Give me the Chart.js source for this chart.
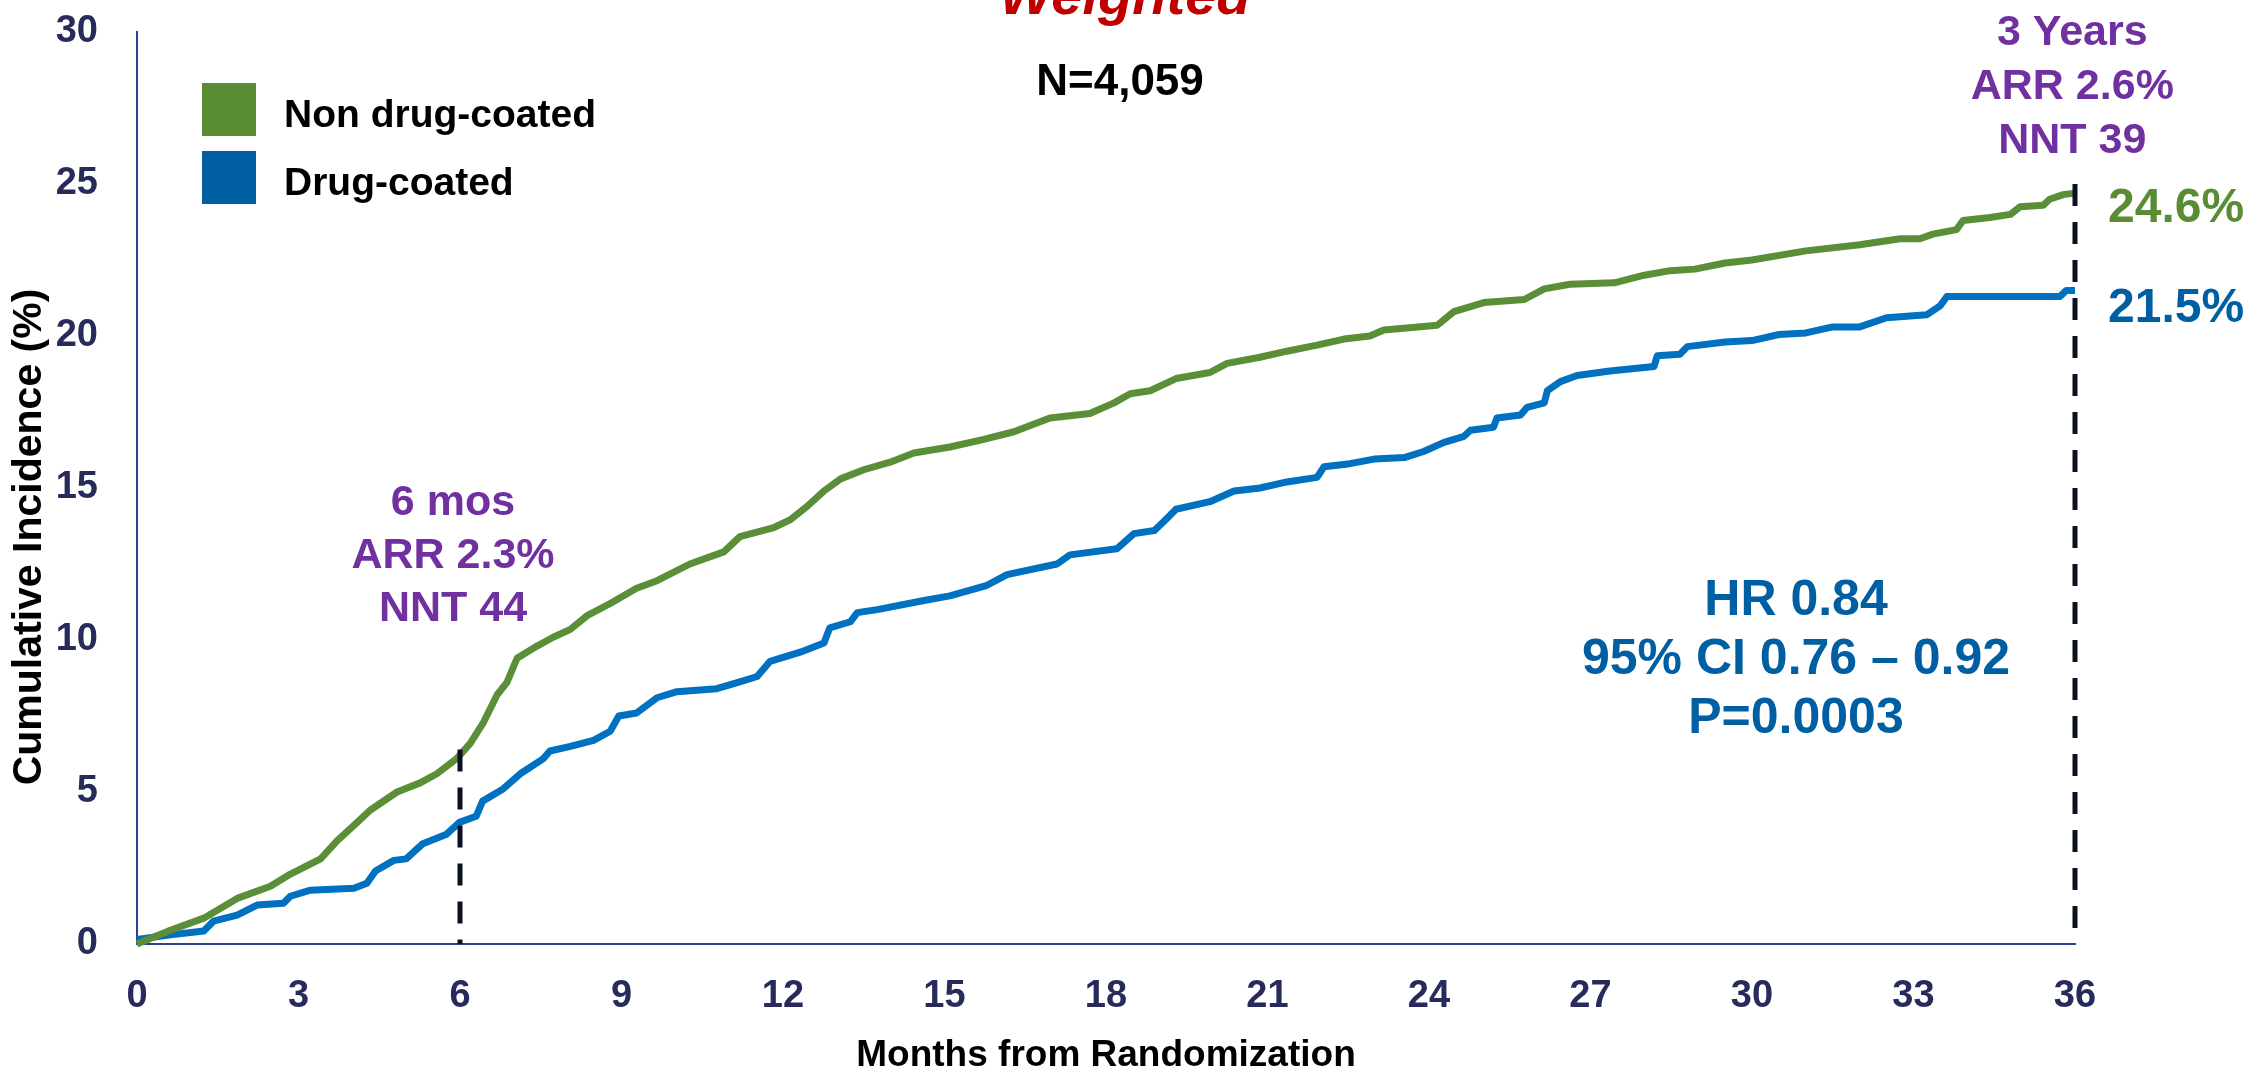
<!DOCTYPE html>
<html>
<head>
<meta charset="utf-8">
<title>Cumulative incidence</title>
<script src="https://cdn.jsdelivr.net/npm/chart.js@4.4.1/dist/chart.umd.min.js"></script>
<style>
  html, body { margin: 0; padding: 0; background: #fff; }
  #km { display: block; }
</style>
</head>
<body>
<canvas id="km" width="2260" height="1074"></canvas>
<script>
// months from randomization and cumulative incidence (%)
const nonCoatedMonths = [0, 0.62, 1.24, 1.86, 2.48, 2.85, 3.41, 3.72, 4.03, 4.33, 4.83, 5.26, 5.57, 5.94, 6.19, 6.44, 6.69, 6.87, 7.06, 7.43, 7.74, 8.05, 8.36, 8.79, 9.28, 9.66, 10.27, 10.9, 11.2, 11.83, 12.13, 12.45, 12.76, 13.07, 13.5, 13.99, 14.43, 15.1, 15.73, 16.29, 16.96, 17.7, 18.15, 18.45, 18.82, 19.3, 19.93, 20.25, 20.86, 21.36, 21.92, 22.42, 22.9, 23.16, 24.15, 24.46, 25.02, 25.77, 26.14, 26.62, 27.44, 28.0, 28.48, 28.94, 29.5, 30.0, 31.0, 32.0, 32.75, 33.12, 33.36, 33.8, 33.92, 34.42, 34.8, 34.98, 35.41, 35.53, 35.78, 36.0];
const nonCoatedPct = [0, 0.45, 0.85, 1.5, 1.9, 2.3, 2.8, 3.4, 3.9, 4.4, 5.0, 5.3, 5.6, 6.1, 6.6, 7.3, 8.2, 8.6, 9.4, 9.8, 10.1, 10.35, 10.8, 11.2, 11.7, 11.95, 12.5, 12.9, 13.4, 13.7, 13.95, 14.4, 14.9, 15.3, 15.6, 15.85, 16.15, 16.35, 16.6, 16.85, 17.3, 17.45, 17.8, 18.1, 18.2, 18.6, 18.8, 19.1, 19.3, 19.5, 19.7, 19.9, 20.0, 20.2, 20.35, 20.8, 21.1, 21.2, 21.55, 21.7, 21.75, 22.0, 22.15, 22.2, 22.4, 22.5, 22.8, 23.0, 23.2, 23.2, 23.35, 23.5, 23.8, 23.9, 24.0, 24.25, 24.3, 24.5, 24.65, 24.7];

const coatedMonths = [0, 0.62, 1.24, 1.42, 1.86, 2.23, 2.72, 2.85, 3.22, 4.03, 4.27, 4.43, 4.77, 5.0, 5.31, 5.74, 5.99, 6.3, 6.42, 6.8, 7.12, 7.55, 7.67, 8.05, 8.48, 8.79, 8.95, 9.28, 9.66, 10.03, 10.77, 11.15, 11.52, 11.76, 12.32, 12.76, 12.87, 13.25, 13.38, 13.75, 14.62, 15.1, 15.79, 16.16, 17.09, 17.33, 18.2, 18.52, 18.9, 19.13, 19.3, 19.93, 20.38, 20.86, 21.36, 21.92, 22.05, 22.53, 22.98, 23.54, 23.9, 24.28, 24.65, 24.77, 25.2, 25.26, 25.7, 25.82, 26.14, 26.2, 26.44, 26.75, 27.36, 28.18, 28.24, 28.66, 28.8, 29.5, 30.0, 30.5, 31.0, 31.5, 32.0, 32.5, 33.25, 33.5, 33.62, 35.72, 35.84, 36.0];
const coatedPct = [0.15, 0.3, 0.43, 0.75, 0.95, 1.28, 1.34, 1.57, 1.77, 1.83, 2.0, 2.4, 2.75, 2.8, 3.3, 3.6, 4.0, 4.2, 4.7, 5.1, 5.6, 6.1, 6.35, 6.5, 6.7, 7.0, 7.5, 7.6, 8.1, 8.3, 8.4, 8.6, 8.8, 9.3, 9.6, 9.9, 10.4, 10.6, 10.9, 11.0, 11.3, 11.45, 11.8, 12.15, 12.5, 12.8, 13.0, 13.5, 13.6, 14.0, 14.3, 14.55, 14.9, 15.0, 15.2, 15.35, 15.7, 15.8, 15.95, 16.0, 16.2, 16.5, 16.7, 16.9, 17.0, 17.3, 17.4, 17.65, 17.8, 18.2, 18.5, 18.7, 18.85, 19.0, 19.35, 19.4, 19.65, 19.8, 19.85, 20.05, 20.1, 20.3, 20.3, 20.6, 20.7, 21.0, 21.3, 21.3, 21.5, 21.5];

// dashed landmark lines (6 months, 3 years)
const landmarkMonths = [6, 36];
const landmarkTops = [6.4, 25];

const seriesNames = ['Non drug-coated', 'Drug-coated'];
const seriesColors = ['#5b8f37', '#0071c1'];
const legendColors = ['#5a8c34', '#005ea2'];
const endLabels = ['24.6%', '21.5%'];
const sixMonthText = ['6 mos', 'ARR 2.3%', 'NNT 44'];
const threeYearText = ['3 Years', 'ARR 2.6%', 'NNT 39'];
const hrText = ['HR 0.84', '95% CI 0.76 \u2013 0.92', 'P=0.0003'];

const FONT = '"Liberation Sans", Arial, Helvetica, sans-serif';
Chart.defaults.font.family = FONT;

function toPoints(xs, ys) {
    return xs.map((m, i) => ({ x: m, y: ys[i] }));
}

function landmarkData(i) {
    return [{ x: landmarkMonths[i], y: landmarkTops[i] }, { x: landmarkMonths[i], y: 0 }];
}

// text that Chart.js has no slot for: title, legend, annotations
const annotate = {
    id: 'annotate',
    afterDraw(chart) {
        const { ctx, scales: { x, y } } = chart;
        ctx.save();
        ctx.textBaseline = 'alphabetic';

        const lines = (arr, cx, firstBase, step, size, color) => {
            ctx.font = 'bold ' + size + 'px ' + FONT;
            ctx.fillStyle = color;
            ctx.textAlign = 'center';
            arr.forEach((t, i) => ctx.fillText(t, cx, firstBase + i * step));
        };

        // title (cut off at the top edge in the original)
        ctx.font = 'italic bold 56px ' + FONT;
        ctx.fillStyle = '#c00000';
        ctx.textAlign = 'center';
        ctx.fillText('Weighted', 1125, 14);

        ctx.font = 'bold 44px ' + FONT;
        ctx.fillStyle = '#000';
        ctx.fillText('N=4,059', 1120, 95);

        // y axis title, sits a little below the middle of the axis
        ctx.save();
        ctx.translate(30, 537);
        ctx.rotate(-Math.PI / 2);
        ctx.font = 'bold 41px ' + FONT;
        ctx.textBaseline = 'middle';
        ctx.fillText('Cumulative Incidence (%)', 0, 0);
        ctx.restore();

        // legend
        seriesNames.forEach((name, i) => {
            const top = 83 + i * 68;
            ctx.fillStyle = legendColors[i];
            ctx.fillRect(202, top, 54, 53);
            ctx.font = 'bold 39px ' + FONT;
            ctx.fillStyle = '#000';
            ctx.textAlign = 'left';
            ctx.fillText(name, 284, top + 44);
        });

        lines(sixMonthText, x.getPixelForValue(5.87), 515, 53, 43, '#7030a0');
        lines(threeYearText, x.getPixelForValue(35.95), 45, 54, 43, '#7030a0');
        lines(hrText, 1796, 615, 59, 50, '#005ea2');

        ctx.font = 'bold 48px ' + FONT;
        ctx.textAlign = 'left';
        ctx.fillStyle = legendColors[0];
        ctx.fillText(endLabels[0], 2108, 222);
        ctx.fillStyle = legendColors[1];
        ctx.fillText(endLabels[1], 2108, 322);
        ctx.restore();
    }
};

const ctx = document.getElementById('km').getContext('2d');
new Chart(ctx, {
    type: 'line',
    data: {
        datasets: [
            { label: '6 mos', data: landmarkData(0), borderColor: '#0b1020', borderWidth: 5, borderDash: [22, 16], pointRadius: 0, clip: false, order: 0 },
            { label: '3 yrs', data: landmarkData(1), borderColor: '#0b1020', borderWidth: 5, borderDash: [22, 16], pointRadius: 0, clip: false, order: 0 },
            { label: seriesNames[0], data: toPoints(nonCoatedMonths, nonCoatedPct), borderColor: seriesColors[0], borderWidth: 7, pointRadius: 0, tension: 0, borderJoinStyle: 'round', clip: false, order: 1 },
            { label: seriesNames[1], data: toPoints(coatedMonths, coatedPct), borderColor: seriesColors[1], borderWidth: 7, pointRadius: 0, tension: 0, borderJoinStyle: 'round', clip: false, order: 2 }
        ]
    },
    options: {
        responsive: false,
        animation: false,
        layout: { padding: { top: 32, right: 185, bottom: 0, left: 0 } },
        plugins: { legend: { display: false }, tooltip: { enabled: false } },
        scales: {
            x: {
                type: 'linear',
                min: 0,
                max: 36,
                grid: { display: false },
                border: { color: '#2f3f8f', width: 2 },
                ticks: { stepSize: 3, color: '#262b5b', font: { size: 38, weight: 'bold' }, padding: 22, maxRotation: 0 },
                title: { display: true, text: 'Months from Randomization', color: '#000', font: { size: 37, weight: 'bold', lineHeight: 1 }, padding: 0 },
                afterFit: s => { s.height = 130; s.paddingRight = 0; s.paddingLeft = 0; }
            },
            y: {
                min: 0,
                max: 30,
                grid: { display: false },
                border: { color: '#2f3f8f', width: 2 },
                ticks: { stepSize: 5, color: '#262b5b', font: { size: 38, weight: 'bold' }, padding: 31 },
                afterFit: s => { s.width = 137; s.paddingTop = 0; s.paddingBottom = 0; }
            }
        }
    },
    plugins: [annotate]
});
</script>
</body>
</html>
